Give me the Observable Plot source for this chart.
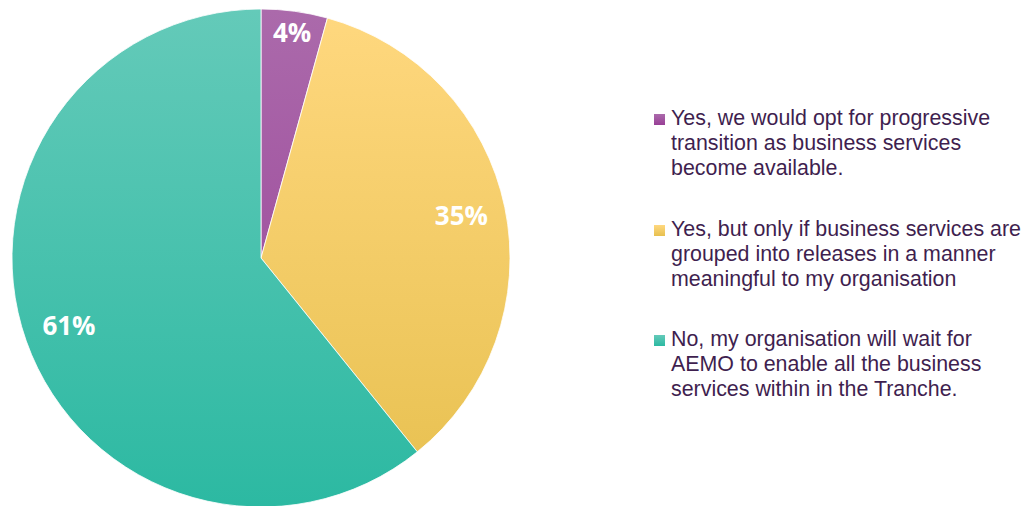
<!DOCTYPE html>
<html>
<head>
<meta charset="utf-8">
<script src="https://cdn.jsdelivr.net/npm/d3@7"></script>
<script src="https://cdn.jsdelivr.net/npm/@observablehq/plot@0.6"></script>
<style>
  html, body { margin: 0; padding: 0; background: #fff; }
  #wrap { position: relative; width: 1025px; height: 506px; overflow: hidden; }
  #legend { position: absolute; left: 654px; top: 106px; font-family: Arial, "Liberation Sans", sans-serif; font-size: 21.4px; line-height: 25px; color: #3f1f4f; }
  .item { position: relative; padding-left: 17px; margin-bottom: 35.5px; white-space: nowrap; }
  .sw { position: absolute; left: 0; top: 8px; width: 11px; height: 11px; }
</style>
</head>
<body>
<div id="wrap"></div>
<script>
const categories = [
  "Yes, we would opt for progressive transition as business services become available.",
  "Yes, but only if business services are grouped into releases in a manner meaningful to my organisation",
  "No, my organisation will wait for AEMO to enable all the business services within in the Tranche."
];
const legendLines = [
  ["Yes, we would opt for progressive", "transition as business services", "become available."],
  ["Yes, but only if business services are", "grouped into releases in a manner", "meaningful to my organisation"],
  ["No, my organisation will wait for", "AEMO to enable all the business", "services within in the Tranche."]
];
const values = [4.3, 34.9, 60.8];
const labels = ["4%", "35%", "61%"];
const colorsTop = ["#ab6aab", "#ffd87f", "#64cab9"];
const colorsBottom = ["#983f96", "#e7c04f", "#2cb9a2"];

const arcs = d3.pie().sort(null)(values);
const data = categories.map((c, i) => {
  const a = arcs[i];
  const mid = (a.startAngle + a.endAngle) / 2;
  const frac = (a.endAngle - a.startAngle) / (2 * Math.PI);
  const lr = frac < 0.08 ? 0.91 : 0.82;
  return {category: c, value: values[i], label: labels[i], start: a.startAngle, end: a.endAngle,
          lx: lr * Math.sin(mid), ly: lr * Math.cos(mid), i};
});

function pieMark(index, scales, values, dimensions, context) {
  const cx = scales.x(0), cy = scales.y(0);
  const r = Math.abs(scales.x(1) - scales.x(0));
  const svg = d3.create("svg:g");
  const defs = svg.append("defs");
  data.forEach(d => {
    const g = defs.append("linearGradient").attr("id", "grad" + d.i)
      .attr("gradientUnits", "userSpaceOnUse")
      .attr("x1", 0).attr("y1", -r).attr("x2", 0).attr("y2", r);
    g.append("stop").attr("offset", "0%").attr("stop-color", colorsTop[d.i]);
    g.append("stop").attr("offset", "100%").attr("stop-color", colorsBottom[d.i]);
  });
  const arc = d3.arc().innerRadius(0).outerRadius(r);
  svg.append("g").attr("transform", `translate(${cx},${cy})`)
    .selectAll("path").data(data).join("path")
    .attr("d", d => arc({startAngle: d.start, endAngle: d.end}))
    .attr("fill", d => `url(#grad${d.i})`)
    .attr("stroke", "#fff").attr("stroke-width", 0.8);
  return svg.node();
}

const chart = Plot.plot({
  width: 1025,
  height: 506,
  margin: 0,
  x: {domain: [-1, 1], range: [12, 510], axis: null},
  y: {domain: [-1, 1], range: [507, 9], axis: null},
  marks: [
    pieMark,
    Plot.text(data, {x: "lx", y: "ly", text: "label", fill: "white",
      fontSize: 26, fontWeight: "bold", fontFamily: "'Open Sans', sans-serif"})
  ]
});
const wrap = document.getElementById("wrap");
wrap.appendChild(chart);

const legend = document.createElement("div");
legend.id = "legend";
legendLines.forEach((lines, i) => {
  const item = document.createElement("div");
  item.className = "item";
  const sw = document.createElement("span");
  sw.className = "sw";
  sw.style.background = `linear-gradient(${colorsTop[i]}, ${colorsBottom[i]})`;
  item.appendChild(sw);
  lines.forEach(t => {
    const l = document.createElement("div");
    l.textContent = t;
    item.appendChild(l);
  });
  legend.appendChild(item);
});
wrap.appendChild(legend);
</script>
</body>
</html>
